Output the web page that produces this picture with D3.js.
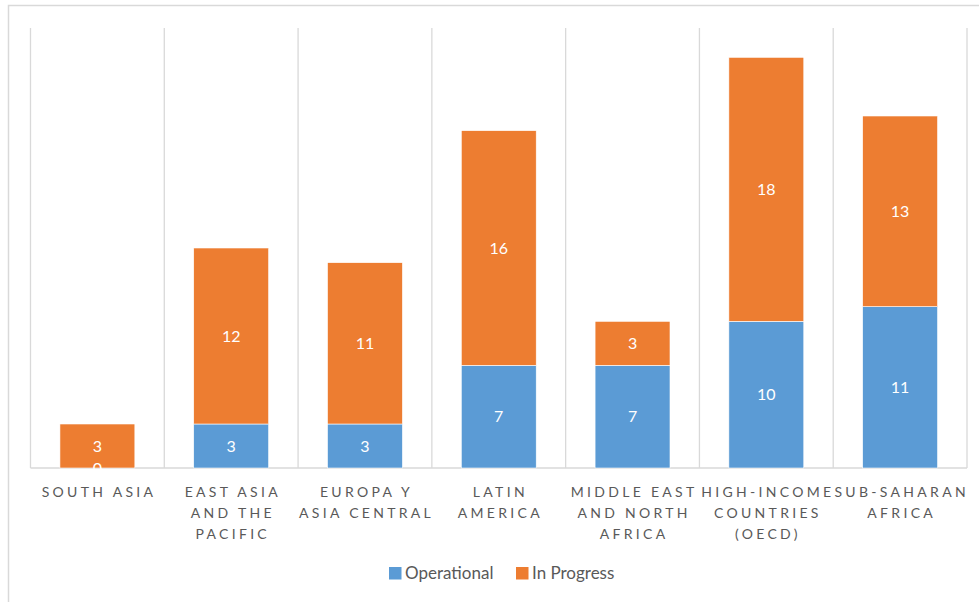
<!DOCTYPE html>
<html>
<head>
<meta charset="utf-8">
<script src="https://cdn.jsdelivr.net/npm/d3@7"></script>
<style>
  body { margin: 0; background: #fff; }
  svg { display: block; font-family: Lato, "Open Sans", sans-serif; }
</style>
</head>
<body>
<div id="chart"></div>
<script>
// data
var categories = [
    "SOUTH ASIA",
    "EAST ASIA\nAND THE\nPACIFIC",
    "EUROPA Y\nASIA CENTRAL",
    "LATIN\nAMERICA",
    "MIDDLE EAST\nAND NORTH\nAFRICA",
    "HIGH-INCOME\nCOUNTRIES\n(OECD)",
    "SUB-SAHARAN\nAFRICA"
];
var operational = [0, 3, 3, 7, 7, 10, 11];
var inProgress  = [3, 12, 11, 16, 3, 18, 13];
var seriesNames = ["Operational", "In Progress"];
var colors = ["#5b9bd5", "#ed7d31"];

var W = 979, H = 602;
var svg = d3.select("#chart").append("svg").attr("width", W).attr("height", H);

// chart frame
svg.append("rect")
    .attr("x", 8.5).attr("y", 5.5)
    .attr("width", W).attr("height", H)
    .attr("fill", "none").attr("stroke", "#d9d9d9").attr("stroke-width", 1.5);

var x = d3.scaleBand().domain(d3.range(categories.length)).range([30.5, 967]).paddingInner(0).paddingOuter(0);
var y = d3.scaleLinear().domain([0, 30]).range([468, 28]);

// vertical category separators
var seps = d3.range(categories.length + 1).map(function(i){
    return i < categories.length ? x(i) : x(i - 1) + x.bandwidth();
});
svg.append("g").selectAll("line").data(seps).enter().append("line")
    .attr("x1", function(d){ return d; }).attr("x2", function(d){ return d; })
    .attr("y1", y(30)).attr("y2", y(0))
    .attr("stroke", "#d9d9d9").attr("stroke-width", 1.3);

// baseline
svg.append("line")
    .attr("x1", 30.5).attr("x2", 967).attr("y1", y(0)).attr("y2", y(0))
    .attr("stroke", "#d9d9d9").attr("stroke-width", 1.3);

// stack
var rows = categories.map(function(c, i){ return {i: i, op: operational[i], ip: inProgress[i]}; });
var stack = d3.stack().keys(["op", "ip"])(rows);

var barW = x.bandwidth() * 0.56;
var layers = svg.append("g").selectAll("g").data(stack).enter().append("g")
    .attr("fill", function(d, k){ return colors[k]; });

layers.selectAll("rect").data(function(d){ return d; }).enter().append("rect")
    .attr("x", function(d){ return x(d.data.i) + (x.bandwidth() - barW) / 2; })
    .attr("y", function(d){ return y(d[1]); })
    .attr("width", barW)
    .attr("height", function(d){ return y(d[0]) - y(d[1]); })
    .attr("stroke", "#fff").attr("stroke-width", 0.6);

// value labels, drawn over all bars
var valLabels = svg.append("g").selectAll("g").data(stack).enter().append("g");
valLabels.selectAll("text").data(function(d){ return d; }).enter().append("text")
    .attr("x", function(d){ return x(d.data.i) + x.bandwidth() / 2; })
    .attr("y", function(d){ return (y(d[0]) + y(d[1])) / 2; })
    .attr("dy", "0.36em")
    .attr("text-anchor", "middle")
    .attr("fill", "#fff")
    .attr("font-size", 16)
    .text(function(d){ return d[1] - d[0]; });

// category labels
var labels = svg.append("g").selectAll("text").data(categories).enter().append("text")
    .attr("x", function(d, i){ return x(i) + x.bandwidth() / 2; })
    .attr("y", 497)
    .attr("text-anchor", "middle")
    .attr("fill", "#595959")
    .attr("font-size", 14)
    .attr("letter-spacing", "3.3px");
labels.each(function(d){
    var t = d3.select(this);
    d.split("\n").forEach(function(line, k){
        t.append("tspan")
            .attr("x", t.attr("x"))
            .attr("dx", 1.6)
            .attr("dy", k ? 21 : 0)
            .text(line);
    });
});

// legend
var legendX = [389, 516];
var legend = svg.append("g").selectAll("g").data(seriesNames).enter().append("g")
    .attr("transform", function(d, k){ return "translate(" + legendX[k] + ",567)"; });
legend.append("rect").attr("width", 12.5).attr("height", 12.5)
    .attr("fill", function(d, k){ return colors[k]; });
legend.append("text").attr("x", 16).attr("y", 12)
    .attr("fill", "#595959").attr("font-size", 17)
    .text(function(d){ return d; });
</script>
</body>
</html>
